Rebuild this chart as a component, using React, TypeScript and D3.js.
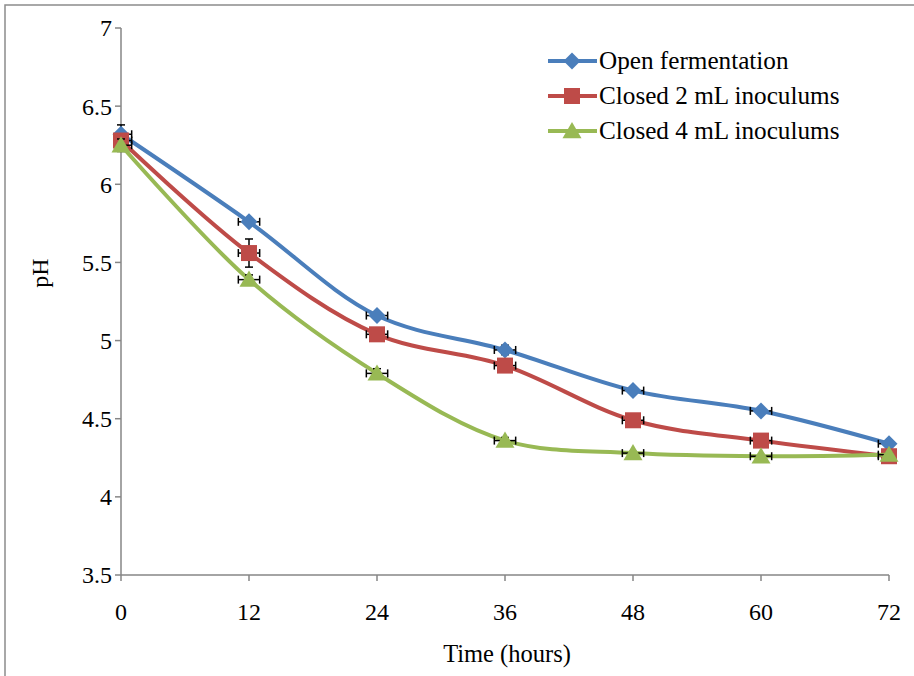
import React from "react";
import * as d3 from "d3";

const hours = [0, 12, 24, 36, 48, 60, 72];
const openFermentation = [6.32, 5.76, 5.16, 4.94, 4.68, 4.55, 4.34];
const closed2mL = [6.28, 5.56, 5.04, 4.84, 4.49, 4.36, 4.26];
const closed4mL = [6.25, 5.39, 4.79, 4.36, 4.28, 4.26, 4.27];
const openErr = [0.06, 0.02, 0.02, 0.03, 0.02, 0.02, 0.02];
const closed2Err = [0.03, 0.09, 0.02, 0.03, 0.02, 0.02, 0.02];
const closed4Err = [0.04, 0.03, 0.03, 0.02, 0.01, 0.01, 0.01];
const hourErr = [1, 1, 1, 1, 1, 1, 1];
const yTicks = [3.5, 4, 4.5, 5, 5.5, 6, 6.5, 7];
const xTicks = [0, 12, 24, 36, 48, 60, 72];
const seriesNames = ["Open fermentation", "Closed 2 mL inoculums", "Closed 4 mL inoculums"];

const colors = ["#4A7EBB", "#BE4B48", "#98B954"];
const markerTypes = ["diamond", "square", "triangle"];

function Marker({ type, x, y, color }: { type: string; x: number; y: number; color: string }) {
  if (type === "diamond") {
    const r = 8.5;
    return <path d={`M${x},${y - r}L${x + r},${y}L${x},${y + r}L${x - r},${y}Z`} fill={color} />;
  }
  if (type === "square") {
    const s = 8;
    return <rect x={x - s} y={y - s} width={2 * s} height={2 * s} fill={color} />;
  }
  const h = 9;
  return <path d={`M${x},${y - h}L${x + 9.5},${y + h * 0.8}L${x - 9.5},${y + h * 0.8}Z`} fill={color} />;
}

export default function App() {
  const W = 914, H = 676;
  const x = d3.scaleLinear().domain([0, 72]).range([121, 889]);
  const y = d3.scaleLinear().domain([3.5, 7]).range([575, 28]);
  const font = "'Liberation Serif', 'Times New Roman', serif";
  const series = [
    { values: openFermentation, err: openErr },
    { values: closed2mL, err: closed2Err },
    { values: closed4mL, err: closed4Err },
  ];
  const line = d3
    .line<[number, number]>()
    .x((d) => x(d[0]))
    .y((d) => y(d[1]))
    .curve(d3.curveCatmullRom.alpha(0.5));
  const axisColor = "#868686";
  const cap = 4;

  return (
    <svg width={W} height={H} style={{ position: "absolute", left: 0, top: 0, background: "#fff" }}>
      <rect x={5} y={5} width={W + 10} height={H + 10} fill="none" stroke="#8c8c8c" strokeWidth={1.5} />
      {/* y axis */}
      <line x1={x(0)} x2={x(0)} y1={y(7)} y2={y(3.5)} stroke={axisColor} strokeWidth={1.5} />
      {yTicks.map((t) => (
        <g key={"y" + t}>
          <line x1={x(0) - 6} x2={x(0)} y1={y(t)} y2={y(t)} stroke={axisColor} strokeWidth={1.5} />
          <text x={112} y={y(t)} dy="0.35em" textAnchor="end" fontFamily={font} fontSize={24} fill="#000">
            {t}
          </text>
        </g>
      ))}
      {/* x axis */}
      <line x1={x(0)} x2={x(72)} y1={y(3.5)} y2={y(3.5)} stroke={axisColor} strokeWidth={1.5} />
      {xTicks.map((t) => (
        <g key={"x" + t}>
          <line x1={x(t)} x2={x(t)} y1={y(3.5)} y2={y(3.5) + 6} stroke={axisColor} strokeWidth={1.5} />
          <text x={x(t)} y={620} textAnchor="middle" fontFamily={font} fontSize={24} fill="#000">
            {t}
          </text>
        </g>
      ))}
      <text x={507} y={662} textAnchor="middle" fontFamily={font} fontSize={24.5} fill="#000">
        Time (hours)
      </text>
      <text
        transform={`translate(48,273) rotate(-90)`}
        textAnchor="middle"
        fontFamily={font}
        fontSize={24}
        fill="#000"
      >
        pH
      </text>
      {series.map((s, i) => {
        const pts: [number, number][] = hours.map((h, j) => [h, s.values[j]]);
        return (
          <g key={"s" + i}>
            <path d={line(pts) || ""} fill="none" stroke={colors[i]} strokeWidth={4} strokeLinejoin="round" />
            {hours.map((h, j) => {
              const cx = x(h), cy = y(s.values[j]);
              const lo = h - hourErr[j], hi = h + hourErr[j];
              const x0 = x(Math.max(0, lo)), x1 = x(Math.min(72, hi));
              const y0 = y(s.values[j] - s.err[j]), y1 = y(s.values[j] + s.err[j]);
              return (
                <g key={"e" + j} stroke="#000" strokeWidth={1.5}>
                  <line x1={x0} x2={x1} y1={cy} y2={cy} />
                  {lo >= 0 && <line x1={x0} x2={x0} y1={cy - cap} y2={cy + cap} />}
                  {hi <= 72 && <line x1={x1} x2={x1} y1={cy - cap} y2={cy + cap} />}
                  <line x1={cx} x2={cx} y1={y0} y2={y1} />
                  <line x1={cx - cap} x2={cx + cap} y1={y0} y2={y0} />
                  <line x1={cx - cap} x2={cx + cap} y1={y1} y2={y1} />
                </g>
              );
            })}
            {hours.map((h, j) => (
              <Marker key={"m" + j} type={markerTypes[i]} x={x(h)} y={y(s.values[j])} color={colors[i]} />
            ))}
          </g>
        );
      })}
      {/* legend */}
      {seriesNames.map((n, i) => {
        const ly = 61 + i * 35;
        return (
          <g key={"l" + i}>
            <line x1={548} x2={597} y1={ly} y2={ly} stroke={colors[i]} strokeWidth={4} />
            <Marker type={markerTypes[i]} x={572} y={ly} color={colors[i]} />
            <text x={599} y={ly} dy="0.33em" fontFamily={font} fontSize={25.2} fill="#000">
              {n}
            </text>
          </g>
        );
      })}
    </svg>
  );
}
